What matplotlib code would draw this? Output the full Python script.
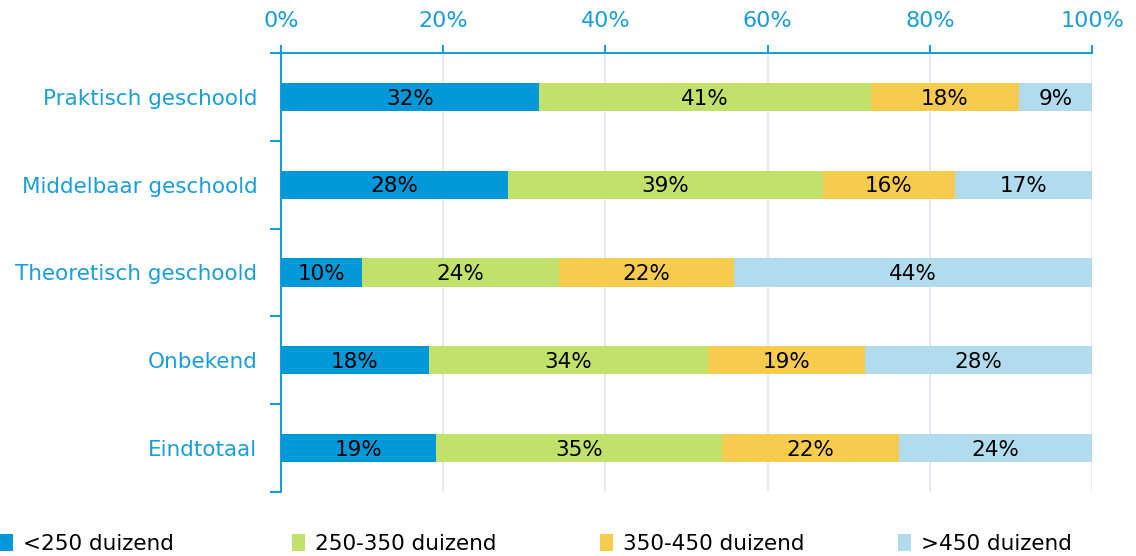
import numpy as np
import matplotlib.pyplot as plt
from matplotlib.patches import Patch
from matplotlib.ticker import FixedLocator, PercentFormatter

# data
categories = ["Praktisch geschoold", "Middelbaar geschoold", "Theoretisch geschoold",
              "Onbekend", "Eindtotaal"]
series_names = ["<250 duizend", "250-350 duizend", "350-450 duizend", ">450 duizend"]
lt250 = [31.8, 28.0, 10.0, 18.2, 19.1]
s250_350 = [40.9, 38.8, 24.3, 34.4, 35.3]
s350_450 = [18.3, 16.3, 21.6, 19.4, 21.8]
gt450 = [9.0, 16.9, 44.1, 28.0, 23.8]
labels = [[32, 28, 10, 18, 19],
          [41, 39, 24, 34, 35],
          [18, 16, 22, 19, 22],
          [9, 17, 44, 28, 24]]

colors = ["#0098d8", "#c0e16a", "#f7cb4d", "#b1dcf0"]
text_blue = "#1a9ed9"

plt.rcParams['font.family'] = ['DejaVu Sans']

fig = plt.figure(figsize=(11.36, 5.56), dpi=100)
ax = fig.add_axes([0.2474, 0.1151, 0.9613 - 0.2474, 0.9047 - 0.1151])

y = np.arange(len(categories))
left = np.zeros(len(categories))
for vals, col, labs in zip([lt250, s250_350, s350_450, gt450], colors, labels):
    vals = np.array(vals)
    ax.barh(y, vals, left=left, height=0.32, color=col, zorder=3)
    for yi, l, v, lab in zip(y, left, vals, labs):
        ax.text(l + v / 2, yi + 0.02, f"{lab}%", ha="center", va="center",
                fontsize=15.5, color="black", zorder=4)
    left = left + vals

ax.set_xlim(0, 100)
ax.set_ylim(4.5, -0.5)
ax.xaxis.tick_top()
ax.set_xticks([0, 20, 40, 60, 80, 100])
ax.xaxis.set_major_formatter(PercentFormatter(decimals=0))
ax.tick_params(axis="x", colors=text_blue, labelsize=16, length=6, width=1.5,
               pad=10, labelcolor=text_blue)
ax.set_yticks(y)
ax.set_yticklabels(categories)
ax.yaxis.set_minor_locator(FixedLocator(np.arange(-0.5, 5, 1)))
ax.tick_params(axis="y", which="major", length=0, labelsize=15.5,
               labelcolor=text_blue, pad=17)
ax.tick_params(axis="y", which="minor", length=8, width=1.5, color=text_blue)

ax.grid(axis="x", color="#dfe8f3", linewidth=1.2, zorder=0)
for s in ["right", "bottom"]:
    ax.spines[s].set_visible(False)
for s in ["top", "left"]:
    ax.spines[s].set_color(text_blue)
    ax.spines[s].set_linewidth(1.5)

# legend items, one per series
leg_x = [0.0, 292 / 1136, 600 / 1136, 898 / 1136]
for c, n, lx in zip(colors, series_names, leg_x):
    leg = fig.legend(handles=[Patch(facecolor=c, label=n)], loc="center left",
                     bbox_to_anchor=(lx, 0.022), frameon=False, fontsize=15.5,
                     handlelength=0.6, handleheight=0.85, handletextpad=0.45,
                     borderaxespad=0, borderpad=0)

fig.savefig("out.png", dpi=100)
